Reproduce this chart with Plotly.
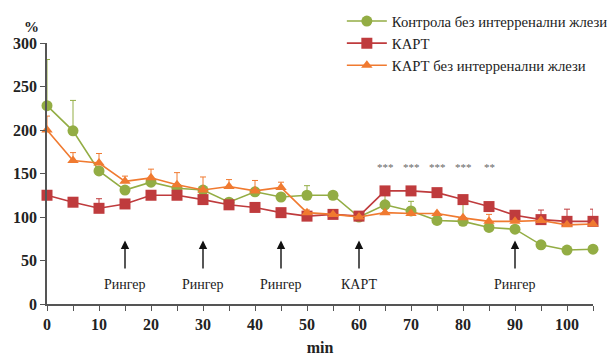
import plotly.graph_objects as go

minutes = [0, 5, 10, 15, 20, 25, 30, 35, 40, 45, 50, 55, 60, 65, 70, 75, 80, 85, 90, 95, 100, 105]

control = [228, 199, 153, 131, 140, 133, 131, 117, 129, 123, 125, 125, 100, 114, 107, 96, 95, 88, 86, 68, 62, 63]
control_err = [53, 35, 0, 0, 0, 0, 0, 0, 0, 0, 11, 0, 0, 14, 11, 0, 25, 0, 0, 0, 0, 0]

kapt = [125, 117, 110, 115, 125, 125, 120, 114, 111, 105, 101, 103, 101, 130, 130, 128, 120, 112, 102, 97, 95, 95]
kapt_err = [0, 0, 11, 0, 0, 0, 0, 0, 0, 0, 0, 0, 0, 0, 0, 0, 0, 0, 0, 11, 14, 14]

kapt_no = [200, 165, 162, 141, 145, 137, 131, 135, 130, 134, 105, 103, 100, 105, 104, 104, 99, 95, 95, 96, 91, 92]
kapt_no_err = [16, 9, 11, 6, 10, 14, 15, 8, 12, 6, 3, 0, 0, 0, 0, 0, 0, 8, 0, 0, 0, 0]

names = ["Контрола без интерренални жлези", "КАРТ", "КАРТ без интерренални жлези"]
colors = ["#93ad44", "#bf3b3d", "#f07a30"]
symbols = ["circle", "square", "triangle-up"]

star_x = [65, 70, 75, 80, 85]
star_text = ["***", "***", "***", "***", "**"]
star_y = 157

arrow_x = [15, 30, 45, 60, 90]
arrow_labels = ["Рингер", "Рингер", "Рингер", "КАРТ", "Рингер"]

x_tickvals = list(range(0, 106, 5))
x_ticktext = [str(v) if v % 10 == 0 else "" for v in x_tickvals]
y_tickvals = [0, 50, 100, 150, 200, 250, 300]

SERIF = "Liberation Serif"

fig = go.Figure()
for ys, errs, nm, col, sym in [(control, control_err, names[0], colors[0], symbols[0]),
                               (kapt, kapt_err, names[1], colors[1], symbols[1]),
                               (kapt_no, kapt_no_err, names[2], colors[2], symbols[2])]:
    fig.add_trace(go.Scatter(
        x=minutes, y=ys, name=nm, mode="lines+markers",
        line=dict(color=col, width=1.6),
        marker=dict(color=col, symbol=sym, size=11 if sym != "triangle-up" else 10),
        error_y=dict(type="data", array=errs, arrayminus=[0] * len(errs), symmetric=False,
                     color=col, thickness=1, width=3),
        cliponaxis=False,
    ))

annotations = []
for sx, st in zip(star_x, star_text):
    annotations.append(dict(x=sx, y=star_y, text=st, showarrow=False,
                            font=dict(family=SERIF, size=11, color="#666666")))
for ax_, lab in zip(arrow_x, arrow_labels):
    annotations.append(dict(x=ax_, y=73, ax=ax_, ay=39, xref="x", yref="y", axref="x", ayref="y",
                            text="", showarrow=True, arrowhead=2, arrowsize=1.2, arrowwidth=1.4,
                            arrowcolor="#111111"))
    annotations.append(dict(x=ax_, y=22, text=lab, showarrow=False,
                            font=dict(family=SERIF, size=14, color="#222222")))
annotations.append(dict(x=-0.046, y=0.96, xref="paper", yref="paper", text="%", showarrow=False,
                        font=dict(family=SERIF, size=15, color="#222222", weight="bold")))

fig.update_layout(
    width=613, height=358,
    margin=dict(l=47, r=20, t=5, b=54, autoexpand=False),
    paper_bgcolor="white", plot_bgcolor="white",
    font=dict(family=SERIF, color="#222222"),
    showlegend=True,
    legend=dict(x=0.54, y=1.0, xanchor="left", yanchor="top",
                font=dict(family=SERIF, size=14.7, color="#222222"),
                bgcolor="rgba(0,0,0,0)", tracegroupgap=0, itemwidth=40),
    xaxis=dict(range=[0, 105], tickvals=x_tickvals, ticktext=x_ticktext,
               showgrid=False, zeroline=False, showline=True, linecolor="#555555", linewidth=1.5,
               ticks="outside", ticklen=5, tickcolor="#555555", tickwidth=1.2,
               tickfont=dict(family=SERIF, size=16, color="#222222", weight="bold"),
               title=dict(text="min", font=dict(family=SERIF, size=16, color="#222222", weight="bold"),
                          standoff=10)),
    yaxis=dict(range=[0, 300], tickvals=y_tickvals, domain=[0, 261 / 299],
               showgrid=False, zeroline=False, showline=True, linecolor="#555555", linewidth=1.5,
               ticks="outside", ticklen=5, tickcolor="#555555", tickwidth=1.2,
               tickfont=dict(family=SERIF, size=16, color="#222222", weight="bold")),
    annotations=annotations,
)

fig.write_html("out.html", config={"displayModeBar": False},
               post_script="document.body.style.margin='0';document.body.style.overflow='hidden';")
